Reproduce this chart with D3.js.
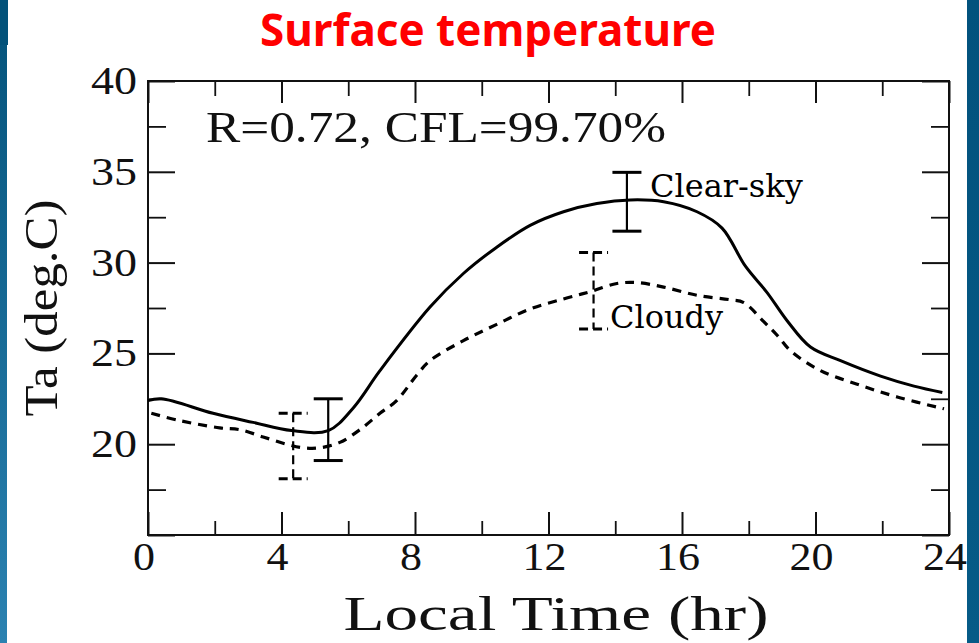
<!DOCTYPE html>
<html>
<head>
<meta charset="utf-8">
<script src="https://cdn.jsdelivr.net/npm/d3@7"></script>
<style>
  html, body { margin: 0; padding: 0; background: #fff; overflow: hidden; }
</style>
</head>
<body>
<svg id="chart" width="979" height="643"></svg>
<script>
// Diurnal cycle of surface air temperature (deg C) against local time (hr)
const clearHours = [0, 0.4, 1.95, 3.15, 4.3, 5.4, 6.15, 6.95, 8.45, 9.45, 10.45, 11.45, 12.45, 13.45,
                    14.45, 15.45, 16.45, 17.2, 17.9, 18.55, 19.15, 19.85, 20.75, 21.95, 22.95, 23.8];
const clearTemp  = [22.4, 22.5, 21.7, 21.2, 20.75, 20.75, 22.0, 24.05, 27.55, 29.4, 30.85, 32.05, 32.8, 33.25,
                    33.45, 33.35, 32.8, 31.9, 29.8, 28.35, 26.8, 25.35, 24.6, 23.75, 23.2, 22.85];

const cloudyHours = [0.1, 0.95, 2.15, 2.75, 3.45, 4.15, 4.65, 5.15, 5.75, 6.35, 6.95, 7.45, 8.05, 8.45,
                     9.45, 10.45, 11.45, 12.45, 13.25, 14.05, 14.65, 15.45, 16.45, 17.45, 17.85, 18.45,
                     18.85, 19.25, 20.15, 21.25, 22.45, 23.85];
const cloudyTemp  = [21.7, 21.3, 20.9, 20.8, 20.4, 20.0, 19.8, 19.8, 20.1, 20.8, 21.7, 22.4, 23.8, 24.6,
                     25.7, 26.6, 27.45, 28.0, 28.4, 28.85, 28.9, 28.65, 28.2, 27.95, 27.8, 26.75,
                     26.0, 25.15, 24.05, 23.3, 22.6, 21.95];

// Error bars: hour, mean, half-range
const clearErrHours = [5.4, 14.35];
const clearErrMean  = [20.8, 33.35];
const clearErrHalf  = [1.7, 1.62];
const cloudyErrHours = [4.35, 13.35];
const cloudyErrMean  = [19.9, 28.45];
const cloudyErrHalf  = [1.8, 2.1];

const xMajorTicks = [0, 4, 8, 12, 16, 20, 24];
const xMinorTicks = [2, 6, 10, 14, 18, 22];
const yMajorTicks = [15, 20, 25, 30, 35, 40];
const yMinorTicks = [17.5, 22.5, 27.5, 32.5, 37.5];
const xTickLabels = ["0", "4", "8", "12", "16", "20", "24"];
const yTickLabels = ["", "20", "25", "30", "35", "40"];

const titleText = "Surface temperature";
const statText = "R=0.72, CFL=99.70%";
const xTitle = "Local Time (hr)";
const yTitle = "Ta (deg.C)";
const seriesNames = ["Clear-sky", "Cloudy"];

const W = 979, H = 643;
const svg = d3.select("#chart");
const typeFace = "'Liberation Serif', 'Times New Roman', serif";

// slide background with blue side bands
const defs = svg.append("defs");
const grad = defs.append("linearGradient").attr("id", "band").attr("x1", 0).attr("y1", 0).attr("x2", 0).attr("y2", 1);
grad.append("stop").attr("offset", "0%").attr("stop-color", "#03527a");
grad.append("stop").attr("offset", "100%").attr("stop-color", "#2b82b1");
const grad2 = defs.append("linearGradient").attr("id", "band2").attr("x1", 0).attr("y1", 0).attr("x2", 0).attr("y2", 1);
grad2.append("stop").attr("offset", "0%").attr("stop-color", "#02527d");
grad2.append("stop").attr("offset", "100%").attr("stop-color", "#065b87");

svg.append("rect").attr("width", W).attr("height", H).attr("fill", "#fff");
svg.append("rect").attr("x", 0).attr("y", 0).attr("width", 7).attr("height", H).attr("fill", "url(#band)");
svg.append("rect").attr("x", 0).attr("y", 0).attr("width", 8).attr("height", 45).attr("fill", "#03527a");
svg.append("rect").attr("x", 967).attr("y", 0).attr("width", 12).attr("height", H).attr("fill", "url(#band2)");

const x = d3.scaleLinear().domain([0, 24]).range([148, 949]);
const y = d3.scaleLinear().domain([15, 40]).range([535, 81]);

// title
svg.append("text")
  .attr("x", 260).attr("y", 46)
  .attr("textLength", 456).attr("lengthAdjust", "spacingAndGlyphs")
  .attr("font-family", "'Noto Sans', 'Open Sans', sans-serif")
  .attr("font-weight", 700)
  .attr("font-size", 44)
  .attr("fill", "#ff0000")
  .text(titleText);

// frame
svg.append("rect")
  .attr("x", x(0)).attr("y", y(40))
  .attr("width", x(24) - x(0)).attr("height", y(15) - y(40))
  .attr("fill", "none").attr("stroke", "#111").attr("stroke-width", 2);

function tickLayer(axis, transform, width) {
  const g = svg.append("g").attr("transform", transform).call(axis);
  g.select(".domain").remove();
  g.selectAll(".tick line").attr("stroke", "#111").attr("stroke-width", width);
  g.selectAll(".tick text").remove();
  return g;
}
// inward ticks on all four sides
tickLayer(d3.axisTop(x).tickValues(xMajorTicks).tickSize(23).tickFormat(""), `translate(0,${y(15)})`, 2);
tickLayer(d3.axisTop(x).tickValues(xMinorTicks).tickSize(14).tickFormat(""), `translate(0,${y(15)})`, 1.8);
tickLayer(d3.axisBottom(x).tickValues(xMajorTicks).tickSize(22).tickFormat(""), `translate(0,${y(40)})`, 2);
tickLayer(d3.axisBottom(x).tickValues(xMinorTicks).tickSize(15).tickFormat(""), `translate(0,${y(40)})`, 1.8);
tickLayer(d3.axisRight(y).tickValues(yMajorTicks).tickSize(27).tickFormat(""), `translate(${x(0)},0)`, 2);
tickLayer(d3.axisRight(y).tickValues(yMinorTicks).tickSize(18).tickFormat(""), `translate(${x(0)},0)`, 1.8);
tickLayer(d3.axisLeft(y).tickValues(yMajorTicks).tickSize(27).tickFormat(""), `translate(${x(24)},0)`, 2);
tickLayer(d3.axisLeft(y).tickValues(yMinorTicks).tickSize(18).tickFormat(""), `translate(${x(24)},0)`, 1.8);

// typewriter-like serif text with a fixed drawn length
function typeText(px, py, str, size, len, anchor, rotate) {
  const g = svg.append("g")
    .attr("transform", `translate(${px},${py})${rotate ? ` rotate(${rotate})` : ""}`);
  g.append("text")
    .attr("font-family", typeFace)
    .attr("font-size", size)
    .attr("text-anchor", anchor)
    .attr("textLength", len)
    .attr("lengthAdjust", "spacingAndGlyphs")
    .attr("fill", "#111")
    .text(str);
  return g;
}

xMajorTicks.forEach((t, i) => typeText(x(t) - 4, 570, xTickLabels[i], 40, 22 * xTickLabels[i].length, "middle"));
yMajorTicks.forEach((v, i) => { if (yTickLabels[i]) typeText(137, y(v) + 13, yTickLabels[i], 40, 46, "end"); });

typeText(206, 141.5, statText, 45, 460, "start");
typeText(556, 630, xTitle, 48, 425, "middle");
typeText(57, 308, yTitle, 46, 217, "middle", -90);

// curves
const line = d3.line()
  .x(d => x(d[0]))
  .y(d => y(d[1]))
  .curve(d3.curveCatmullRom.alpha(0.5));

svg.append("path")
  .datum(d3.zip(clearHours, clearTemp))
  .attr("d", line)
  .attr("fill", "none").attr("stroke", "#000").attr("stroke-width", 3)
  .attr("stroke-linejoin", "round");

svg.append("path")
  .datum(d3.zip(cloudyHours, cloudyTemp))
  .attr("d", line)
  .attr("fill", "none").attr("stroke", "#000").attr("stroke-width", 3.2)
  .attr("stroke-dasharray", "9,7");

// error bars
function errorBars(hours, mean, half, dash) {
  const g = svg.append("g");
  hours.forEach((h, i) => {
    const cx = x(h), top = y(mean[i] + half[i]), bot = y(mean[i] - half[i]);
    g.append("line").attr("x1", cx).attr("x2", cx).attr("y1", top).attr("y2", bot)
      .attr("stroke", "#000").attr("stroke-width", 2.2).attr("stroke-dasharray", dash);
    [top, bot].forEach(yy => {
      g.append("line").attr("x1", cx - 14.5).attr("x2", cx + 14.5).attr("y1", yy).attr("y2", yy)
        .attr("stroke", "#000").attr("stroke-width", 3).attr("stroke-dasharray", dash);
    });
  });
}
errorBars(clearErrHours, clearErrMean, clearErrHalf, null);
errorBars(cloudyErrHours, cloudyErrMean, cloudyErrHalf, "9,5");

// series labels
const serif = "'DejaVu Serif', 'Liberation Serif', serif";
svg.append("text").attr("x", 650).attr("y", 197)
  .attr("font-family", serif).attr("font-size", 32).attr("fill", "#000").text(seriesNames[0]);
svg.append("text").attr("x", 610).attr("y", 328)
  .attr("font-family", serif).attr("font-size", 32).attr("fill", "#000").text(seriesNames[1]);
</script>
</body>
</html>
